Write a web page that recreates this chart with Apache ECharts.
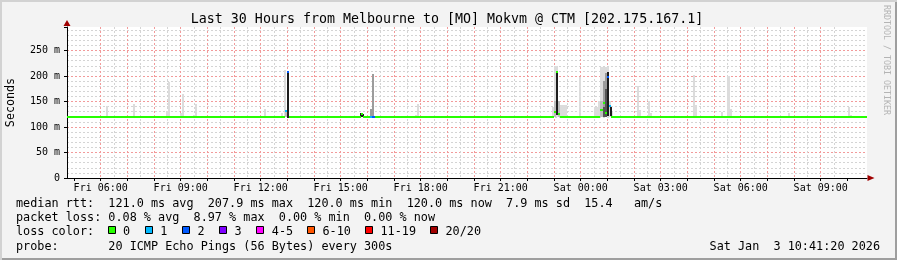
<!DOCTYPE html>
<html><head><meta charset="utf-8">
<script src="https://cdn.jsdelivr.net/npm/echarts@6/dist/echarts.min.js"></script>
<style>
html,body{margin:0;padding:0;background:#f3f3f3;}
#c{width:897px;height:260px;box-sizing:border-box;background:#f3f3f3;box-shadow:inset 2px 2px 0 #d2d2d2, inset -2px -2px 0 #9e9e9e;}
</style></head><body><div id="c"></div>
<script>
// ---- time axis (hours since Fri 00:00) ----
const xStart = 4.736, xEnd = 34.736;
const stepHours = 5 / 60;               // one SmokePing step (300 s)
const yMax = 296;                        // milliseconds

// ---- ticks / tick labels ----
const xGridHours  = [5, 6, 7, 8, 9, 10, 11, 12, 13, 14, 15, 16, 17, 18, 19, 20, 21, 22, 23, 24, 25, 26, 27, 28, 29, 30, 31, 32, 33, 34];
const xTickHours  = [6, 9, 12, 15, 18, 21, 24, 27, 30, 33];
const xTickLabels = ['Fri 06:00','Fri 09:00','Fri 12:00','Fri 15:00','Fri 18:00','Fri 21:00','Sat 00:00','Sat 03:00','Sat 06:00','Sat 09:00'];
const yTickValues = [0, 50, 100, 150, 200, 250];
const yTickLabels = ['0', '50 m', '100 m', '150 m', '200 m', '250 m'];

// ---- smoke (ping spread per step), ms ----
const smokeTime    = [6.19, 7.21, 8.46, 8.51, 8.96, 9.04, 9.45, 9.53, 12.12,
  12.76, 12.87, 12.90, 12.98, 15.72, 15.80, 16.10, 16.18, 17.77, 17.85,
  22.91, 22.99, 23.07, 22.99, 23.15, 23.07, 23.24, 23.32, 23.40, 23.93,
  24.50, 24.58, 24.66, 24.74, 24.82, 24.90, 24.98, 25.06, 25.14, 24.74, 24.82, 24.90, 24.82, 24.90, 24.98, 25.08,
  26.10, 26.18, 26.51, 26.59, 28.20, 28.28, 29.26, 29.50, 29.58, 31.78, 34.01, 34.09];
const smokeLow     = [120, 120, 120, 120, 120, 120, 120, 120, 120,
  120, 120, 120, 118, 120, 119, 120, 120, 120, 120,
  120, 120, 120, 120, 120, 124, 120, 120, 120, 120,
  120, 120, 120, 120, 120, 120, 120, 120, 120, 120, 120, 120, 120, 120, 122, 121,
  120, 120, 120, 120, 120, 120, 120, 120, 120, 120, 120, 120];
const smokeHigh    = [141, 145, 132, 189, 127, 165, 123, 145, 135,
  128, 212, 133, 208, 128, 125, 135, 204, 123, 146,
  140, 219, 219, 150, 150, 207, 143, 143, 143, 198,
  139, 139, 150, 218, 218, 218, 218, 150, 130, 150, 190, 205, 140, 175, 208, 140,
  180, 133, 151, 128, 202, 143, 130, 199, 135, 128, 140, 123];
const smokeDensity = [1, 1, 1, 1, 1, 1, 1, 1, 1,
  1, 1, 2, 5, 5, 5, 3, 3, 1, 1,
  1, 1, 1, 2, 2, 5, 1, 1, 1, 1,
  1, 1, 1, 1, 1, 1, 1, 1, 1, 2, 3, 3, 4, 4, 5, 5,
  1, 1, 1, 1, 1, 1, 1, 1, 1, 1, 1, 1];

// ---- median rtt (change points) ----
const medianTime  = [4.736, 12.90, 12.98, 13.06, 15.76, 15.84, 16.10, 16.18, 16.27, 22.99, 23.07, 23.15, 23.24, 24.74, 24.82, 24.90, 24.98, 25.06, 25.14];
const medianValue = [120, 131, 208, 120, 125, 120, 120, 120, 120, 130, 208, 126, 120, 133, 147, 127, 198, 141, 120];
const medianLoss  = [0, 1, 2, 0, 0, 0, 1, 2, 0, 0, 0, 0, 0, 0, 0, 0, 2, 1, 0];

// ---- loss legend ----
const lossLabels = ['0', '1', '2', '3', '4-5', '6-10', '11-19', '20/20'];
const lossColors = ['#26ff00', '#00b8ff', '#0059ff', '#7e00ff', '#ff00ff', '#ff5500', '#ff0000', '#a10000'];
const smokeShades = ['', '#dcdcdc', '#bdbdbd', '#9c9c9c', '#555555', '#1c1c1c'];

// build data tables
const smokeData = smokeTime.map((t, i) => [t, smokeLow[i], smokeHigh[i], smokeDensity[i]])
  .sort((a, b) => a[3] - b[3]);
const medianData = medianTime.map((t, i) => [t, medianValue[i], medianLoss[i], i + 1 < medianTime.length ? medianTime[i + 1] : xEnd]);
const xHalfHours = xGridHours.map(h => h + 0.5).filter(h => h < xEnd);

const MONO = '"DejaVu Sans Mono", monospace';
const chart = echarts.init(document.getElementById('c'), null, {renderer: 'canvas'});

const legendX = [107.5, 144.7, 182, 219, 256.3, 307, 365, 430];
const txt = (x, y, s, size, extra) => Object.assign({type: 'text', x: x, y: y,
  style: Object.assign({text: s, font: size + 'px ' + MONO, fill: '#000', textAlign: 'left', textVerticalAlign: 'middle'}, extra || {})});
const gfx = [
  txt(447, 19.5, 'Last 30 Hours from Melbourne to [MO] Mokvm @ CTM [202.175.167.1]', 13.3, {textAlign: 'center'}),
  Object.assign(txt(10.5, 102.5, 'Seconds', 11.7, {textAlign: 'center'}), {rotation: Math.PI / 2}),
  Object.assign(txt(886.5, 5, 'RRDTOOL / TOBI OETIKER', 8.3, {fill: '#b4b4b4'}), {rotation: -Math.PI / 2}),
  txt(16, 204, 'median rtt:  121.0 ms avg  207.9 ms max  120.0 ms min  120.0 ms now  7.9 ms sd  15.4   am/s', 11.8),
  txt(16, 218.3, 'packet loss: 0.08 % avg  8.97 % max  0.00 % min  0.00 % now', 11.8),
  txt(16, 232.3, 'loss color:', 11.8),
  txt(16, 246.5, 'probe:       20 ICMP Echo Pings (56 Bytes) every 300s', 11.8),
  txt(880, 246.5, 'Sat Jan  3 10:41:20 2026', 11.8, {textAlign: 'right'})
];
lossLabels.forEach((lab, i) => {
  gfx.push({type: 'rect', shape: {x: Math.round(legendX[i]) + 0.5, y: 226.5, width: 7, height: 7}, style: {fill: lossColors[i], stroke: '#000', lineWidth: 1}});
  gfx.push(txt(legendX[i] + 15.5, 232.3, lab, 11.8));
});

const RED = '#f29a9a', GREY = '#d4d4d4';
const option = {
  animation: false,
  backgroundColor: 'transparent',
  grid: {left: 67, right: 30, top: 27, bottom: 82, show: true, backgroundColor: '#ffffff', borderWidth: 0, containLabel: false},
  xAxis: [{
    // half-hour minor grid + arrow head
    type: 'value', position: 'bottom', min: xStart, max: xEnd,
    axisLine: {show: true, onZero: false, symbol: ['none', 'triangle'], symbolSize: [6, 7], symbolOffset: [0, 4], lineStyle: {color: '#a00000', width: 0}},
    axisTick: {show: false, customValues: xHalfHours}, axisLabel: {show: false},
    splitLine: {show: true, showMinLine: false, showMaxLine: false, lineStyle: {color: GREY, width: 1, type: [2, 2]}}
  }, {
    // main time axis: hourly red grid, labels every 3 h
    type: 'value', position: 'bottom', min: xStart, max: xEnd,
    axisLine: {show: true, onZero: false, lineStyle: {color: '#000', width: 1}},
    axisTick: {show: true, length: 3, customValues: xGridHours, lineStyle: {color: '#000'}},
    axisLabel: {margin: 5, color: '#000', fontFamily: 'DejaVu Sans Mono', fontSize: 10, customValues: xTickHours,
      formatter: v => { const k = xTickHours.indexOf(Math.round(v * 1000) / 1000); return k >= 0 ? xTickLabels[k] : ''; }},
    splitLine: {show: true, showMinLine: false, showMaxLine: false, lineStyle: {color: RED, width: 1, type: [2, 2]}}
  }],
  yAxis: [{
    type: 'value', min: 0, max: yMax, interval: 50,
    axisLine: {show: true, onZero: false, lineStyle: {color: '#000', width: 1}},
    axisTick: {show: true, length: 3, lineStyle: {color: '#000'}},
    axisLabel: {margin: 7, color: '#000', fontFamily: 'DejaVu Sans Mono', fontSize: 10,
      formatter: v => { const k = yTickValues.indexOf(v); return k >= 0 ? yTickLabels[k] : ''; }},
    splitLine: {show: true, showMinLine: false, showMaxLine: false, lineStyle: {color: RED, width: 1, type: [2, 2]}},
    minorTick: {show: false, splitNumber: 5},
    minorSplitLine: {show: true, lineStyle: {color: GREY, width: 1, type: [2, 2]}}
  }, {
    type: 'value', position: 'left', min: 0, max: yMax,
    axisLine: {show: true, onZero: false, symbol: ['none', 'triangle'], symbolSize: [7, 6], symbolOffset: [0, 4], lineStyle: {color: '#a00000', width: 0}},
    axisTick: {show: false}, axisLabel: {show: false}, splitLine: {show: false}
  }],
  graphic: gfx,
  series: [{
    type: 'custom', name: 'smoke', xAxisIndex: 1, yAxisIndex: 0, data: smokeData,
    encode: {x: 0, y: [1, 2]}, silent: true,
    renderItem: (params, api) => {
      const p0 = api.coord([api.value(0), api.value(2)]);
      const p1 = api.coord([api.value(0) + stepHours, api.value(1)]);
      const x0 = Math.round(p0[0]), x1 = Math.round(p1[0]);
      const y0 = Math.round(p0[1]), y1 = Math.round(p1[1]);
      return {type: 'rect', shape: {x: x0, y: y0, width: Math.max(1, x1 - x0), height: y1 - y0},
        style: {fill: smokeShades[api.value(3)]}};
    }
  }, {
    type: 'custom', name: 'median', xAxisIndex: 1, yAxisIndex: 0, data: medianData,
    encode: {x: [0, 3], y: 1}, silent: true,
    renderItem: (params, api) => {
      const p0 = api.coord([api.value(0), api.value(1)]);
      const p1 = api.coord([api.value(3), api.value(1)]);
      const y = Math.round(p0[1]);
      return {type: 'rect', shape: {x: Math.round(p0[0]), y: y - 1, width: Math.round(p1[0]) - Math.round(p0[0]), height: 2},
        style: {fill: lossColors[api.value(2)]}};
    }
  }]
};
chart.setOption(option);
</script></body></html>
